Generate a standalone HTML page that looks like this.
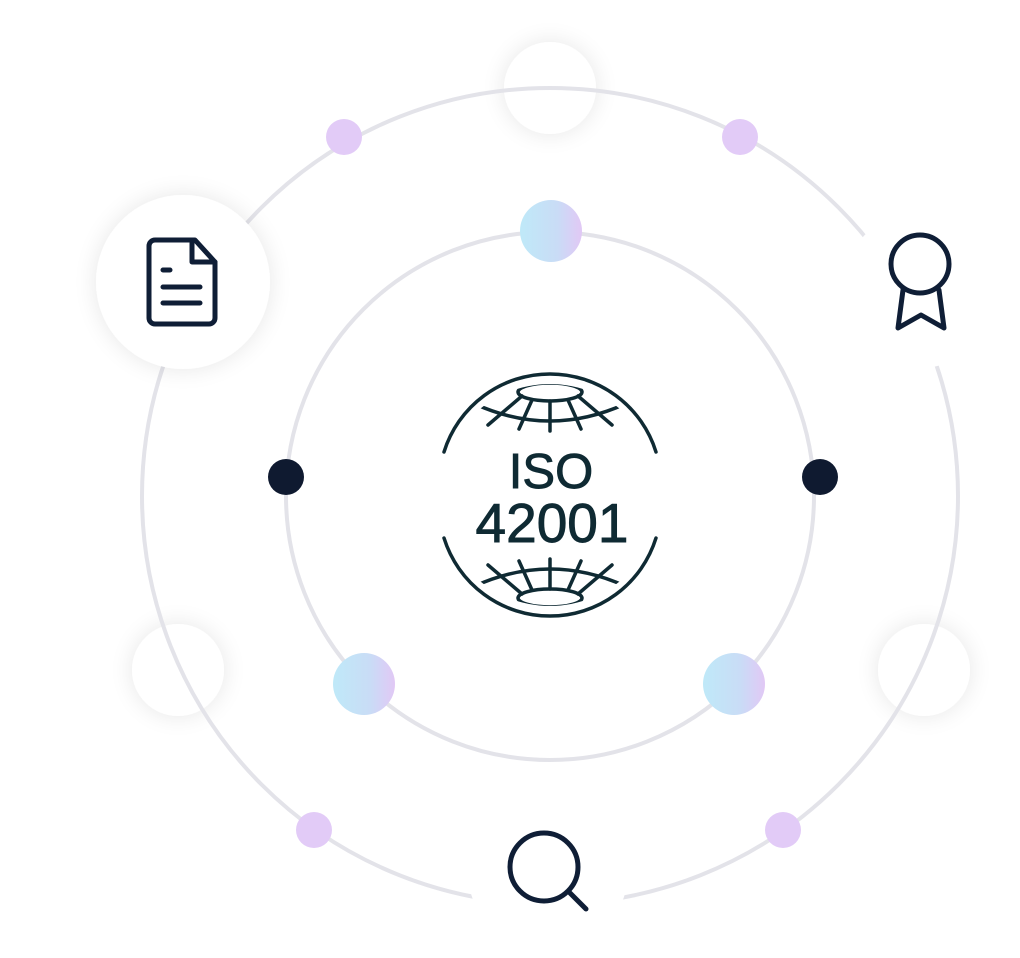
<!DOCTYPE html>
<html><head><meta charset="utf-8"><style>
html,body{margin:0;padding:0;background:#fff;width:1020px;height:958px;overflow:hidden}
svg{display:block}
</style></head><body>
<svg width="1020" height="958" viewBox="0 0 1020 958" xmlns="http://www.w3.org/2000/svg">
<defs>
<filter id="sh" x="-60%" y="-60%" width="220%" height="220%"><feGaussianBlur in="SourceAlpha" stdDeviation="12"/><feComponentTransfer><feFuncA type="linear" slope="0.10"/></feComponentTransfer><feMerge><feMergeNode/><feMergeNode in="SourceGraphic"/></feMerge></filter>
<linearGradient id="g" x1="0" x2="1" y1="0" y2="0"><stop offset="0" stop-color="#bfe9f8"/><stop offset="0.6" stop-color="#c9dcf6"/><stop offset="1" stop-color="#e1c8f5"/></linearGradient>
<clipPath id="gc"><circle cx="550" cy="495" r="111"/></clipPath>
</defs>
<circle cx="550" cy="88" r="46" fill="#fff" filter="url(#sh)"/>
<circle cx="178" cy="670" r="46" fill="#fff" filter="url(#sh)"/>
<circle cx="924" cy="670" r="46" fill="#fff" filter="url(#sh)"/>
<circle cx="550" cy="496" r="408" fill="none" stroke="#e3e3e9" stroke-width="4"/>
<circle cx="550" cy="496" r="264" fill="none" stroke="#e3e3e9" stroke-width="4"/>
<circle cx="920" cy="290" r="78" fill="#fff"/>
<circle cx="548" cy="872" r="80" fill="#fff"/>
<circle cx="183" cy="282" r="87" fill="#fff" filter="url(#sh)"/>
<g fill="none" stroke="#0f1e36" stroke-width="5" stroke-linecap="round" stroke-linejoin="round">
<path d="M195,240 H155 a6,6 0 0 0 -6,6 V318 a6,6 0 0 0 6,6 H209 a6,6 0 0 0 6,-6 V262 Z"/>
<path d="M192,240 V262 H215"/>
<path d="M163,270 H170 M163,287 H200 M163,303 H200"/>
<circle cx="920" cy="264" r="29"/>
<path d="M903,290 L898,328 L921,315 L944,328 L939,290"/>
<circle cx="544" cy="867" r="34"/>
<path d="M570,893 L586,909"/>
</g>
<g fill="#e2cbf7">
<circle cx="344" cy="137" r="18"/><circle cx="740" cy="137" r="18"/>
<circle cx="314" cy="830" r="18"/><circle cx="783" cy="830" r="18"/>
</g>
<g fill="url(#g)">
<circle cx="551" cy="231" r="31"/><circle cx="364" cy="684" r="31"/><circle cx="734" cy="684" r="31"/>
</g>
<circle cx="286" cy="477" r="18" fill="#0f1a30"/>
<circle cx="820" cy="477" r="18" fill="#0f1a30"/>
<g fill="none" stroke="#0f2a33" stroke-width="3.5" stroke-linecap="round">
<path d="M444,452 A111,111 0 0 1 656,452"/>
<path d="M444,538 A111,111 0 0 0 656,538"/>
<g clip-path="url(#gc)">
<ellipse cx="550" cy="392" rx="32" ry="9"/>
<path d="M475,404 Q550,438 625,404"/>
<path d="M550,401 V431 M532,400 L519,429 M568,400 L581,429 M522,396 L488,425 M578,396 L612,425"/>
<ellipse cx="550" cy="598" rx="32" ry="9"/>
<path d="M475,586 Q550,552 625,586"/>
<path d="M550,589 V559 M532,590 L519,561 M568,590 L581,561 M522,594 L488,565 M578,594 L612,565"/>
</g>
</g>
<g font-family="Liberation Sans, sans-serif" fill="#0f2a33" stroke="#0f2a33" stroke-width="0.9" text-anchor="middle">
<text x="551" y="488" font-size="49">ISO</text>
<text x="552" y="542" font-size="55">42001</text>
</g>
</svg>
</body></html>
